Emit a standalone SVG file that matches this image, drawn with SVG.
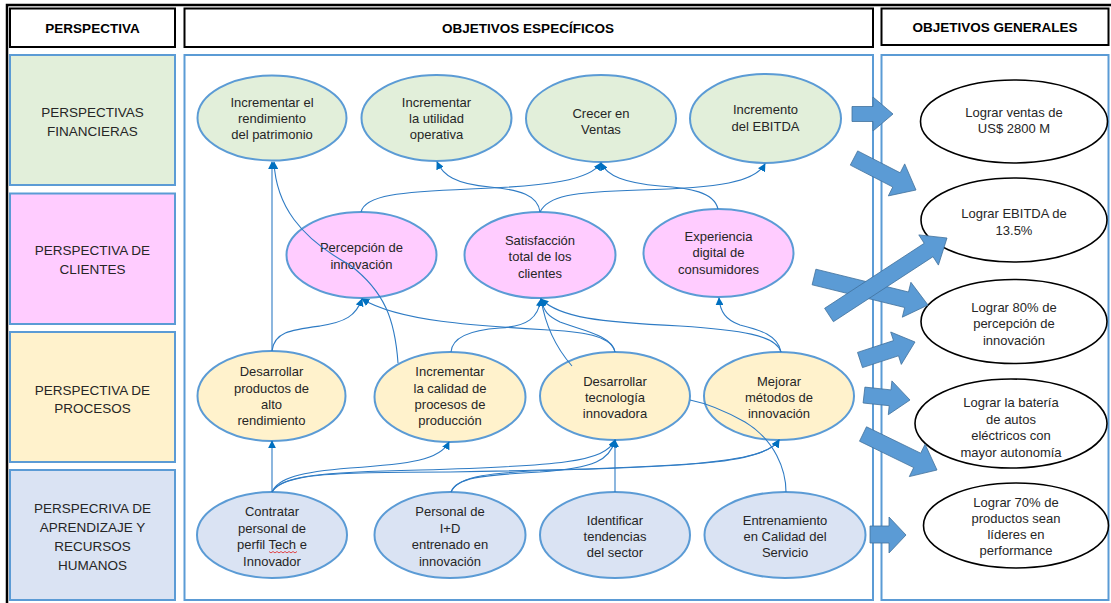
<svg xmlns="http://www.w3.org/2000/svg" width="1111" height="603" viewBox="0 0 1111 603">
<defs>
<marker id="ah" viewBox="0 0 10 10" refX="9" refY="5" markerWidth="8" markerHeight="8" markerUnits="userSpaceOnUse" orient="auto">
<path d="M0,0 L10,5 L0,10 z" fill="#0070C0"/>
</marker>
<style>
.hdr{fill:#fff;stroke:#000;stroke-width:2}
.ht{font-family:"Liberation Sans",Arial,sans-serif;font-weight:bold;font-size:13.5px;fill:#000;text-anchor:middle}
.lb{stroke:#5B9BD5;stroke-width:2}
.lt{font-family:"Liberation Sans",Arial,sans-serif;font-size:13.5px;fill:#262626;text-anchor:middle}
.et{font-family:"Liberation Sans",Arial,sans-serif;font-size:13px;fill:#262626;text-anchor:middle}
.en{stroke:#5B9BD5;stroke-width:2}
.fin{fill:#E2EFDA}.cli{fill:#FFCCFF}.pro{fill:#FFF2CC}.apr{fill:#DAE3F3}
.gen{fill:#fff;stroke:#000;stroke-width:1.6}
.c{fill:none;stroke:#2E7BC4;stroke-width:1.1}
.ca{fill:none;stroke:#2E7BC4;stroke-width:1.1;marker-end:url(#ah)}
.ba{fill:#5B9BD5;stroke:#41719C;stroke-width:0.8}
</style>
</defs>
<rect width="1111" height="603" fill="#fff"/>
<!-- outer frame -->
<path d="M7,603 L7,5 L1111,5" fill="none" stroke="#000" stroke-width="2.5"/>

<!-- headers -->
<g id="h-perspectiva"><rect class="hdr" x="10" y="8.5" width="165" height="38.5"/><text class="ht" x="92.5" y="33">PERSPECTIVA</text></g>
<g id="h-especificos"><rect class="hdr" x="184.5" y="8.5" width="688.5" height="38.5"/><text class="ht" x="528" y="33">OBJETIVOS ESPECÍFICOS</text></g>
<g id="h-generales"><rect class="hdr" x="881.5" y="8.5" width="227" height="36.5"/><text class="ht" x="995" y="32">OBJETIVOS GENERALES</text></g>

<!-- left column -->
<g id="p-financieras"><rect class="lb fin" x="10" y="55" width="165" height="130"/><text class="lt" x="92.5" y="116.5">PERSPECTIVAS</text><text class="lt" x="92.5" y="135.5">FINANCIERAS</text></g>
<g id="p-clientes"><rect class="lb cli" x="10" y="193.5" width="165" height="130.5"/><text class="lt" x="92.5" y="254.7">PERSPECTIVA DE</text><text class="lt" x="92.5" y="274">CLIENTES</text></g>
<g id="p-procesos"><rect class="lb pro" x="10" y="332" width="165" height="130"/><text class="lt" x="92.5" y="394.7">PERSPECTIVA DE</text><text class="lt" x="92.5" y="413">PROCESOS</text></g>
<g id="p-aprendizaje"><rect class="lb apr" x="10" y="470" width="165" height="130"/><text class="lt" x="92.5" y="513">PERSPECRIVA DE</text><text class="lt" x="92.5" y="532">APRENDIZAJE Y</text><text class="lt" x="92.5" y="551">RECURSOS</text><text class="lt" x="92.5" y="570">HUMANOS</text></g>

<!-- containers -->
<rect id="box-especificos" x="184.5" y="55" width="688.5" height="545" fill="#fff" stroke="#5B9BD5" stroke-width="2"/>
<rect id="box-generales" x="881.5" y="55" width="227" height="545" fill="#fff" stroke="#5B9BD5" stroke-width="2"/>

<!-- financial -->
<g id="e1"><ellipse class="en fin" cx="272" cy="118" rx="74.5" ry="42.5"/><text class="et" x="272" y="106.5">Incrementar el</text><text class="et" x="272" y="122.5">rendimiento</text><text class="et" x="272" y="138.5">del patrimonio</text></g>
<g id="e2"><ellipse class="en fin" cx="436.5" cy="118" rx="75" ry="43"/><text class="et" x="436.5" y="106.5">Incrementar</text><text class="et" x="436.5" y="122.5">la utilidad</text><text class="et" x="436.5" y="138.5">operativa</text></g>
<g id="e3"><ellipse class="en fin" cx="601" cy="118.5" rx="75" ry="43.5"/><text class="et" x="601" y="117.5">Crecer en</text><text class="et" x="601" y="133.5">Ventas</text></g>
<g id="e4"><ellipse class="en fin" cx="765.5" cy="118.5" rx="75.5" ry="44.5"/><text class="et" x="765.5" y="114">Incremento</text><text class="et" x="765.5" y="131">del EBITDA</text></g>

<!-- clients -->
<g id="c1"><ellipse class="en cli" cx="361.5" cy="255" rx="75" ry="43"/><text class="et" x="361.5" y="252">Percepción de</text><text class="et" x="361.5" y="268.5">innovación</text></g>
<g id="c2"><ellipse class="en cli" cx="540" cy="255" rx="75.5" ry="43"/><text class="et" x="540" y="244.5">Satisfacción</text><text class="et" x="540" y="261">total de los</text><text class="et" x="540" y="277.5">clientes</text></g>
<g id="c3"><ellipse class="en cli" cx="718.5" cy="253" rx="75" ry="44"/><text class="et" x="718.5" y="240.5">Experiencia</text><text class="et" x="718.5" y="256.5">digital de</text><text class="et" x="718.5" y="273.5">consumidores</text></g>

<!-- processes -->
<g id="y1"><ellipse class="en pro" cx="271.5" cy="396" rx="74" ry="45"/><text class="et" x="271.5" y="376">Desarrollar</text><text class="et" x="271.5" y="392.5">productos de</text><text class="et" x="271.5" y="409">alto</text><text class="et" x="271.5" y="425">rendimiento</text></g>
<g id="y2"><ellipse class="en pro" cx="450" cy="397" rx="75.5" ry="45"/><text class="et" x="450" y="376">Incrementar</text><text class="et" x="450" y="392.5">la calidad de</text><text class="et" x="450" y="409">procesos de</text><text class="et" x="450" y="425">producción</text></g>
<g id="y3"><ellipse class="en pro" cx="615" cy="396" rx="75" ry="44"/><text class="et" x="615" y="386">Desarrollar</text><text class="et" x="615" y="402">tecnología</text><text class="et" x="615" y="418">innovadora</text></g>
<g id="y4"><ellipse class="en pro" cx="779" cy="396" rx="75" ry="44"/><text class="et" x="779" y="386">Mejorar</text><text class="et" x="779" y="402">métodos de</text><text class="et" x="779" y="418">innovación</text></g>

<!-- learning -->
<g id="b1"><ellipse class="en apr" cx="272" cy="535" rx="75" ry="43"/><text class="et" x="272" y="516">Contratar</text><text class="et" x="272" y="532.5">personal de</text><text class="et" x="272" y="549">perfil Tech e</text><text class="et" x="272" y="565.5">Innovador</text><path d="M269,551.5 l2,1.4 l2,-1.4 l2,1.4 l2,-1.4 l2,1.4 l2,-1.4 l2,1.4 l2,-1.4 l2,1.4 l2,-1.4 l2,1.4 l2,-1.4 l2,1.4 l2,-1.4" fill="none" stroke="#E02020" stroke-width="0.8"/></g>
<g id="b2"><ellipse class="en apr" cx="450" cy="535" rx="75.5" ry="43"/><text class="et" x="450" y="516">Personal de</text><text class="et" x="450" y="532.5">I+D</text><text class="et" x="450" y="549">entrenado en</text><text class="et" x="450" y="565.5">innovación</text></g>
<g id="b3"><ellipse class="en apr" cx="615" cy="535" rx="75" ry="43"/><text class="et" x="615" y="524.5">Identificar</text><text class="et" x="615" y="540.5">tendencias</text><text class="et" x="615" y="556.5">del sector</text></g>
<g id="b4"><ellipse class="en apr" cx="785" cy="535" rx="80.5" ry="43"/><text class="et" x="785" y="524.5">Entrenamiento</text><text class="et" x="785" y="540.5">en Calidad del</text><text class="et" x="785" y="556.5">Servicio</text></g>

<!-- general objectives -->
<g id="g1"><ellipse class="gen" cx="1014" cy="121.5" rx="93.5" ry="41.5"/><text class="et" x="1014" y="117">Lograr ventas de</text><text class="et" x="1014" y="133">US$ 2800 M</text></g>
<g id="g2"><ellipse class="gen" cx="1014" cy="220" rx="93" ry="42"/><text class="et" x="1014" y="218">Lograr EBITDA de</text><text class="et" x="1014" y="234.5">13.5%</text></g>
<g id="g3"><ellipse class="gen" cx="1014" cy="321.5" rx="93" ry="42"/><text class="et" x="1014" y="311.5">Lograr 80% de</text><text class="et" x="1014" y="328">percepción de</text><text class="et" x="1014" y="344.5">innovación</text></g>
<g id="g4"><ellipse class="gen" cx="1011" cy="423.5" rx="96" ry="44.5"/><text class="et" x="1011" y="407">Lograr la batería</text><text class="et" x="1011" y="423.5">de autos</text><text class="et" x="1011" y="440">eléctricos con</text><text class="et" x="1011" y="456.5">mayor autonomía</text></g>
<g id="g5"><ellipse class="gen" cx="1016" cy="525.5" rx="92.5" ry="42.5"/><text class="et" x="1016" y="507">Lograr 70% de</text><text class="et" x="1016" y="523">productos sean</text><text class="et" x="1016" y="539">líderes en</text><text class="et" x="1016" y="555">performance</text></g>

<!-- connectors -->
<g id="connectors">
<path class="ca" d="M272,351 L272,162"/>
<path class="ca" d="M398,363 C395,320 385,292 350,265 C300,238 276,205 274,162"/>
<path class="ca" d="M272,351 C274,332 290,330 320,326 C345,322 356,316 362,299"/>
<path class="ca" d="M451,352 C452,338 470,330 500,328 C528,326 538,318 541,299"/>
<path class="ca" d="M572,366 C558,350 546,330 541,299"/>
<path class="ca" d="M615,352 C612,335 580,330 560,322 C548,316 544,312 541,299"/>
<path class="ca" d="M615,352 C612,338 590,332 550,330 C480,326 400,322 362,299"/>
<path class="ca" d="M781,352 C778,335 760,330 740,325 C726,320 720,312 719,298"/>
<path class="ca" d="M781,352 C776,335 740,330 680,326 C600,322 560,318 541,299"/>
<path class="ca" d="M540,212 C538,195 520,190 490,187 C455,184 443,175 437,162"/>
<path class="ca" d="M361,212 C365,195 400,192 470,189 C550,186 590,180 601,163"/>
<path class="ca" d="M540,212 C548,196 570,192 640,190 C720,188 755,182 765,164"/>
<path class="ca" d="M718,209 C714,192 690,188 660,186 C625,183 607,176 601,163"/>
<path class="ca" d="M272,492 L272,441"/>
<path class="ca" d="M272,492 C278,478 300,472 350,468 C410,464 440,460 449,442"/>
<path class="ca" d="M272,492 C280,476 320,472 420,470 C560,466 605,462 615,440"/>
<path class="ca" d="M272,492 C282,474 330,472 450,472 C680,468 765,464 779,440"/>
<path class="ca" d="M451,492 C456,478 480,475 540,472 C595,468 610,460 615,440"/>
<path class="ca" d="M451,492 C458,476 490,472 560,470 C700,466 765,462 779,440"/>
<path class="ca" d="M615,492 L615,440"/>
<path class="c" d="M786,492 C786,470 775,440 745,422 C720,408 700,402 690,400"/>
</g>

<!-- block arrows -->
<g id="block-arrows">
<polygon class="ba" points="852,106.5 873,106.5 873,97 893,114 873,131 873,121.5 852,121.5"/>
<polygon class="ba" points="857.7,150.9 900.2,172.8 904.7,163.9 916,190 888.3,195.9 892.8,187 850.3,165.1"/>
<polygon class="ba" points="815.9,269.2 908.5,292 910.9,282.3 928,305 902.3,317.2 904.7,307.5 812.1,284.8"/>
<polygon class="ba" points="824.6,308.3 924.2,243.3 918.8,234.9 947,238 938.4,265.1 933,256.7 833.4,321.7"/>
<polygon class="ba" points="857.5,352.4 893.5,340.6 890.7,332 915,342 901.3,364.4 898.5,355.8 862.5,367.6"/>
<polygon class="ba" points="864.9,387.1 891,389.9 891.9,380.9 910,400 888.3,414.7 889.2,405.7 863.1,403"/>
<polygon class="ba" points="866.5,426.8 920.7,453.2 925.1,444.2 937,470 909.3,476.6 913.7,467.6 859.5,441.2"/>
<polygon class="ba" points="870,526 889,526 889,517 906,535 889,553 889,543 870,543"/>
</g>
</svg>
